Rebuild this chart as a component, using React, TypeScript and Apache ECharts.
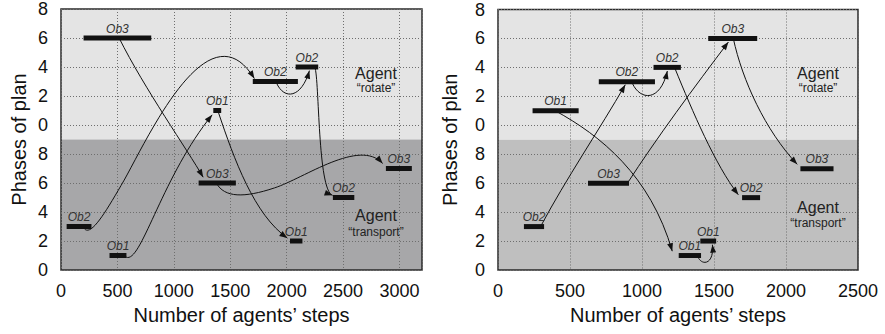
import React, { useEffect, useRef } from "react";
import * as echarts from "echarts";

// Phases of the "rotate" agent are drawn above those of the "transport" agent
const ROTATE_OFFSET = 10;
const LEVEL_MAX = 18;
const AGENT_SPLIT = 9;

// ---------- Left chart ----------
const leftBarObject = ["Ob3", "Ob2", "Ob2", "Ob1", "Ob2", "Ob1", "Ob3", "Ob1", "Ob2", "Ob3"];
const leftBarAgent = ["rotate", "rotate", "rotate", "rotate", "transport", "transport", "transport", "transport", "transport", "transport"];
const leftBarPhase = [6, 3, 4, 1, 3, 1, 6, 2, 5, 7];
const leftBarStart = [200, 1700, 2080, 1350, 50, 430, 1220, 2030, 2410, 2880];
const leftBarEnd = [800, 2100, 2280, 1420, 270, 580, 1550, 2140, 2600, 3110];
const leftStepMax = 3200;

// arrows: [step, level] points of cubic segments (start, c1, c2, end, c1, c2, end ...)
const leftArrows: number[][][] = [
  [[515, 16], [740, 12.5], [1120, 8.3], [1260, 6.4]],
  [[195, 3], [249, 2.07], [382, 3.8], [560, 6.2], [782, 9.3], [1314, 18.3], [1714, 13.2]],
  [[560, 1], [693, -0.15], [870, 6.2], [1340, 10.7]],
  [[1394, 10.9], [1536, 7.6], [1714, 3.8], [2007, 2.2]],
  [[1910, 12.9], [1980, 11.7], [2131, 11.85], [2202, 13.75]],
  [[2250, 14], [2291, 13.1], [2274, 5.5], [2407, 5.15]],
  [[1377, 6], [1448, 4.97], [1625, 4.97], [1892, 5.66], [2158, 6.34], [2647, 9.1], [2851, 7.35]],
];

// ---------- Right chart ----------
const rightBarObject = ["Ob1", "Ob2", "Ob2", "Ob3", "Ob2", "Ob3", "Ob1", "Ob1", "Ob2", "Ob3"];
const rightBarAgent = ["rotate", "rotate", "rotate", "rotate", "transport", "transport", "transport", "transport", "transport", "transport"];
const rightBarPhase = [1, 3, 4, 6, 3, 6, 1, 2, 5, 7];
const rightBarStart = [240, 700, 1080, 1460, 180, 625, 1255, 1405, 1695, 2100];
const rightBarEnd = [560, 1090, 1270, 1800, 320, 910, 1410, 1515, 1820, 2330];
const rightStepMax = 2500;

const rightArrows: number[][][] = [
  [[301, 3.1], [467, 6.2], [710, 9.8], [884, 12.8]],
  [[398, 11], [710, 9.3], [1058, 6.55], [1210, 1.3]],
  [[933, 12.9], [988, 11.7], [1127, 11.6], [1176, 13.75]],
  [[1230, 13.9], [1349, 11.0], [1509, 7.25], [1669, 5.2]],
  [[899, 6], [1093, 9.0], [1371, 12.75], [1600, 15.75]],
  [[1634, 16], [1697, 13.1], [1856, 9.65], [2078, 7.3]],
  [[1385, 1], [1406, 0.28], [1503, 0.28], [1489, 1.75]],
];

const FONT = "Liberation Sans, Arial, Helvetica, sans-serif";

function barData(start: number[], end: number[], phase: number[], agent: string[], obj: string[]) {
  return start.map((s, i) => [s, end[i], phase[i] + (agent[i] === "rotate" ? ROTATE_OFFSET : 0), obj[i]]);
}

function barSeries(idx: number, data: any[]) {
  return {
    type: "custom",
    xAxisIndex: idx,
    yAxisIndex: idx,
    z: 4,
    encode: { x: [0, 1], y: 2 },
    data,
    renderItem: (params: any, api: any) => {
      const y = api.value(2);
      const p0 = api.coord([api.value(0), y]);
      const p1 = api.coord([api.value(1), y]);
      return {
        type: "group",
        children: [
          {
            type: "rect",
            shape: { x: p0[0], y: p0[1] - 2.5, width: p1[0] - p0[0], height: 5 },
            style: { fill: "#111" },
          },
          {
            type: "text",
            x: (p0[0] + p1[0]) / 2,
            y: p0[1] - 3.5,
            style: {
              text: data[params.dataIndex][3],
              fontSize: 12,
              fontStyle: "italic",
              fontFamily: FONT,
              fill: "#333",
              align: "center",
              verticalAlign: "bottom",
            },
          },
        ],
      };
    },
  };
}

function arrowSeries(idx: number, arrows: number[][][]) {
  return {
    type: "custom",
    xAxisIndex: idx,
    yAxisIndex: idx,
    z: 3,
    encode: { x: 0, y: 1 },
    data: arrows.map((a) => a[0]),
    renderItem: (params: any, api: any) => {
      const pts = arrows[params.dataIndex].map((p) => api.coord(p));
      const children: any[] = [];
      for (let i = 0; i + 3 < pts.length; i += 3) {
        children.push({
          type: "bezierCurve",
          shape: {
            x1: pts[i][0], y1: pts[i][1],
            cpx1: pts[i + 1][0], cpy1: pts[i + 1][1],
            cpx2: pts[i + 2][0], cpy2: pts[i + 2][1],
            x2: pts[i + 3][0], y2: pts[i + 3][1],
          },
          style: { stroke: "#111", lineWidth: 1, fill: "none" },
        });
      }
      const n = pts.length;
      const tip = pts[n - 1];
      const prev = pts[n - 2];
      let dx = tip[0] - prev[0];
      let dy = tip[1] - prev[1];
      const len = Math.hypot(dx, dy) || 1;
      dx /= len;
      dy /= len;
      const L = 8, W = 3;
      const bx = tip[0] - dx * L, by = tip[1] - dy * L;
      children.push({
        type: "polygon",
        shape: { points: [[tip[0], tip[1]], [bx - dy * W, by + dx * W], [bx + dy * W, by - dx * W]] },
        style: { fill: "#111" },
      });
      return { type: "group", children };
    },
  };
}

function backgroundSeries(idx: number, stepMax: number, lowColor: string) {
  return {
    type: "custom",
    xAxisIndex: idx,
    yAxisIndex: idx,
    z: -1,
    silent: true,
    encode: { x: 0, y: 1 },
    data: [[0, 0]],
    renderItem: (_p: any, api: any) => {
      const a = api.coord([0, LEVEL_MAX]);
      const b = api.coord([stepMax, AGENT_SPLIT]);
      const c = api.coord([0, AGENT_SPLIT]);
      const d = api.coord([stepMax, 0]);
      return {
        type: "group",
        children: [
          { type: "rect", shape: { x: a[0], y: a[1], width: b[0] - a[0], height: b[1] - a[1] }, style: { fill: "#e4e4e4" } },
          { type: "rect", shape: { x: c[0], y: c[1], width: d[0] - c[0], height: d[1] - c[1] }, style: { fill: lowColor } },
        ],
      };
    },
  };
}

const splitLine = { show: true, lineStyle: { type: [1, 2] as any, color: "#6e6e6e", width: 1 } };

function xAxis(idx: number, max: number) {
  return {
    type: "value",
    gridIndex: idx,
    min: 0,
    max,
    interval: 500,
    axisLine: { show: false },
    axisTick: { show: false },
    axisLabel: {
      fontSize: 18,
      color: "#111",
      margin: 12,
      fontFamily: FONT,
      formatter: (v: number) => (v % 500 === 0 ? String(v) : ""),
    },
    splitLine,
    name: "Number of agents\u2019 steps",
    nameLocation: "middle",
    nameGap: 34,
    nameTextStyle: { fontSize: 20, color: "#111", fontFamily: FONT },
  };
}

function yAxis(idx: number, nameGap: number) {
  return {
    type: "value",
    gridIndex: idx,
    min: 0,
    max: LEVEL_MAX,
    interval: 2,
    axisLine: { show: false },
    axisTick: { show: false },
    axisLabel: {
      fontSize: 18,
      color: "#111",
      margin: 13,
      fontFamily: FONT,
      formatter: (v: number) => String(v >= ROTATE_OFFSET ? v - ROTATE_OFFSET : v),
    },
    splitLine,
    name: "Phases of plan",
    nameLocation: "middle",
    nameGap,
    nameTextStyle: { fontSize: 20, color: "#111", fontFamily: FONT },
  };
}

function agentText(x: number, y: number, t1: string, t2: string, y2: number) {
  return [
    { type: "text", x, y, style: { text: t1, fontSize: 16, fontFamily: FONT, fill: "#222", align: "center", verticalAlign: "middle" }, z: 10 },
    { type: "text", x, y: y2, style: { text: t2, fontSize: 12, fontFamily: FONT, fill: "#222", align: "center", verticalAlign: "middle" }, z: 10 },
  ];
}

export default function App() {
  const ref = useRef<HTMLDivElement>(null);
  useEffect(() => {
    const chart = echarts.init(ref.current!, null, { renderer: "svg" });
    const option: any = {
      animation: false,
      backgroundColor: "#ffffff",
      textStyle: { fontFamily: FONT },
      grid: [
        { left: 61, top: 9, width: 361, height: 261, show: true, borderColor: "#2a2a2a", borderWidth: 1.5, backgroundColor: "transparent", outerBoundsMode: "none" },
        { left: 498, top: 9.5, width: 360, height: 260.5, show: true, borderColor: "#2a2a2a", borderWidth: 1.5, backgroundColor: "transparent", outerBoundsMode: "none" },
      ],
      xAxis: [xAxis(0, leftStepMax), xAxis(1, rightStepMax)],
      yAxis: [yAxis(0, 32), yAxis(1, 38)],
      series: [
        backgroundSeries(0, leftStepMax, "#a7a7a9"),
        backgroundSeries(1, rightStepMax, "#bfbfbf"),
        arrowSeries(0, leftArrows),
        arrowSeries(1, rightArrows),
        barSeries(0, barData(leftBarStart, leftBarEnd, leftBarPhase, leftBarAgent, leftBarObject)),
        barSeries(1, barData(rightBarStart, rightBarEnd, rightBarPhase, rightBarAgent, rightBarObject)),
      ],
      graphic: [
        ...agentText(376, 73, "Agent", "\u201crotate\u201d", 88),
        ...agentText(376, 215, "Agent", "\u201ctransport\u201d", 232),
        ...agentText(818, 73, "Agent", "\u201crotate\u201d", 88),
        ...agentText(818, 207, "Agent", "\u201ctransport\u201d", 223),
      ],
    };
    chart.setOption(option);
    return () => chart.dispose();
  }, []);
  return <div ref={ref} style={{ position: "absolute", left: 0, top: 0, width: 885, height: 334 }} />;
}
